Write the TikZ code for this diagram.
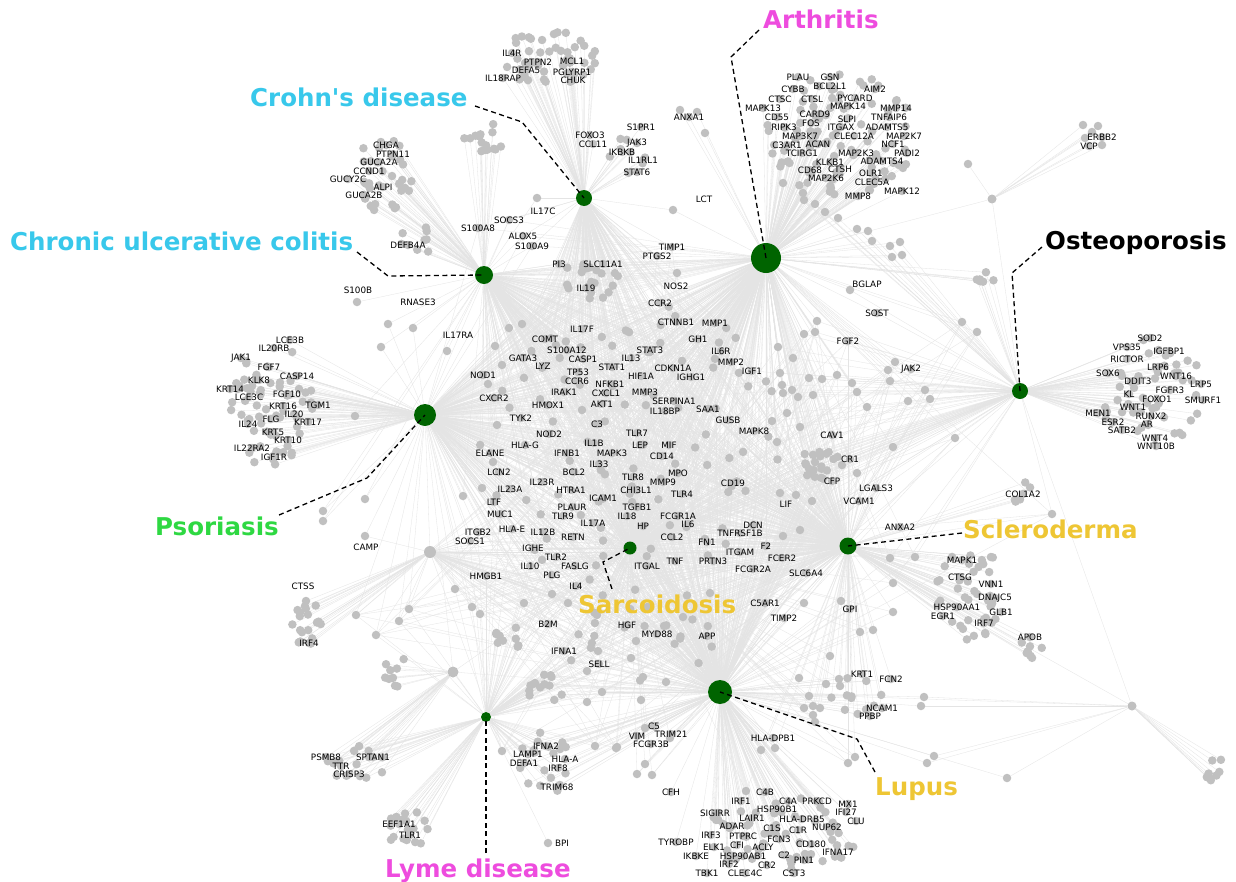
\documentclass[tikz,border=0pt]{standalone}
\usepackage{fontspec}
\setmainfont{DejaVu Sans}
\newfontfamily\diseasefont{DejaVu Sans}
\pgfdeclarelayer{background}
\pgfdeclarelayer{foreground}
\pgfsetlayers{background,main,foreground}

\definecolor{hubgreen}{RGB}{0,100,0}
\definecolor{dotgray}{RGB}{192,192,192}
\definecolor{edgegray}{RGB}{228,228,228}
\definecolor{ibdcyan}{RGB}{56,200,235}
\definecolor{lblmagenta}{RGB}{238,76,222}
\definecolor{lblgreen}{RGB}{46,216,66}
\definecolor{lblgold}{RGB}{238,198,52}

\tikzset{
  dot/.style={circle, fill=dotgray, inner sep=0pt, minimum size=8.5pt},
  minihub/.style={circle, fill=dotgray, inner sep=0pt},
  hub/.style={circle, fill=hubgreen, inner sep=0pt},
  edge/.style={draw=edgegray, line width=0.3pt},
  gene/.style={font=\fontsize{8.8}{9}\selectfont, inner sep=0pt, text=black},
  disease/.style={font=\diseasefont\fontsize{24.5}{28}\selectfont\bfseries, inner sep=0pt, anchor=base west},
  leader/.style={draw=black, line width=1.3pt, dash pattern=on 5pt off 3.5pt},
}

% hub groups that a node is linked to
\def\hbA{ART}
\def\hbC{CRO}
\def\hbU{COL}
\def\hbP{PSO}
\def\hbO{OST}
\def\hbS{SCL}
\def\hbL{LUP}
\def\hbY{LYM}
\def\hbCU{CRO,COL}
\def\hbCA{CRO,ART}
\def\hbAO{ART,OST}
\def\hbV{COL,CRO,PSO,ART}
\def\hbM{COL,CRO,ART,PSO,SAR,LUP}
\def\hbX{ART,PSO,SAR,LUP,SCL,COL,CRO}
\def\hbW{LUP,SAR,SCL,PSO,LYM,ART,g1}
\def\hbR{ART,SCL,LUP,OST,SAR}
\def\hbK{LUP,SCL}
\def\hbT{g2,LYM}
\def\hbLY{LYM,LUP}
\def\hbPU{PSO,COL}
\def\hbGa{g1}
\def\hbGb{g2}
\def\hbGc{g3}
\def\hbGd{g4}
\def\hbLS{LUP,SAR,SCL}
\def\hbLG{LUP,g4}
\def\hbSY{LYM,SAR}
\def\hbPG{g1,PSO}
\def\hbRO{ART,OST,SCL}

% unlabelled scattered clusters: \blobX{id}{cx}{cy}{rx}{ry}{count}{hubs}
\newcommand\bloblist{%
\blobX{bC1}{548}{58}{50}{27}{46}\hbC
\blobX{bC2}{628}{150}{22}{25}{8}\hbC
\blobX{bU1}{484}{139}{20}{18}{15}\hbU
\blobX{bU2}{385}{175}{32}{38}{34}\hbU
\blobX{bU3}{418}{240}{18}{14}{8}\hbU
\blobX{bV1}{590}{280}{30}{20}{20}\hbV
\blobX{bA1}{843}{135}{78}{62}{90}\hbA
\blobX{bO1}{1152}{393}{52}{58}{45}\hbO
\blobX{bO2}{985}{280}{12}{9}{6}\hbAO
\blobX{bP1}{273}{405}{42}{64}{60}\hbP
\blobX{bS1}{972}{595}{38}{45}{40}\hbS
\blobX{bS2}{1030}{648}{12}{11}{7}\hbS
\blobX{bS3}{1022}{492}{12}{12}{5}\hbS
\blobX{bR1}{822}{465}{22}{18}{22}\hbR
\blobX{bL1}{780}{835}{78}{40}{60}\hbL
\blobX{bL2}{858}{696}{30}{20}{12}\hbK
\blobX{bG1}{306}{622}{15}{25}{18}\hbGa
\blobX{bG2}{355}{765}{33}{20}{16}\hbT
\blobX{bG3}{396}{670}{12}{18}{9}\hbGb
\blobX{bG4}{1214}{768}{12}{16}{9}\hbGd
\blobX{bY1}{408}{830}{20}{22}{18}\hbY
\blobX{bY2}{510}{636}{15}{14}{9}\hbSY
\blobX{bY3}{545}{690}{18}{17}{13}\hbLY
\blobX{bY4}{540}{762}{32}{35}{18}\hbLY
\blobX{bX1}{630}{440}{150}{150}{90}\hbX
\blobX{bX2}{640}{640}{90}{55}{22}\hbW
}

% unlabelled single dots: \listX{id}{x/y,...}{hubs}
\newcommand\singlelist{%
\listX{sA1}{783/183,803/193,804/200,815/204,825/212,838/218,857/229,868/231,872/241,890/246,900/242,892/257,902/255}\hbAO
\listX{sA2}{680/110,697/112,705/133}\hbA
\listX{sE}{968/164,1083/125,1098/126,1092/132,1085/138,1102/145}\hbGc
\listX{sR}{817/321,804/334,815/332,778/347,793/358,780/373,782/385,792/390,798/397,783/393,809/378,822/379,837/375,852/383,857/392,867/407,813/395,787/413,800/427,772/421,777/442,893/447,857/473,796/495,812/501,800/530,783/536,890/558,915/557,893/583,888/370,895/362,890/381,908/401,962/322,977/332,925/390,930/399,955/438,1052/514}\hbR
\listX{sP}{388/324,381/347,355/416,365/499,323/511,323/521,463/496,482/488,493/462,497/425,488/384,495/346,502/365,509/328,522/324}\hbPU
\listX{sW}{455/589,472/607,480/614,409/609,399/621,356/615,376/635,524/603,552/594,568/603,597/615,598/651,587/671,602/692,587/702,502/751,595/746,616/748}\hbW
\listX{sL}{804/603,841/601,893/612,860/632,873/630,830/656,799/678,826/684,839/679,809/696,804/708,813/706,820/708,813/715,815/722,855/757,848/763,761/750,775/748,643/677,666/682,641/700,631/658,636/641,664/626,683/617,710/593,617/747,645/764,637/774,652/775,645/728,670/738,746/791}\hbLS
\listX{sG}{924/697,921/706,934/756,927/763,1007/778}\hbLG
}

% labelled genes: \genA{x}{y}{name}{hubs}, \genB{lx}{ly}{dx}{dy}{name}{hubs}
\newcommand\genelist{%
\genA{512}{53}{IL4R}\hbC
\genA{538}{62}{PTPN2}\hbC
\genA{572}{61}{MCL1}\hbC
\genA{526}{70}{DEFA5}\hbC
\genA{572}{72}{PGLYRP1}\hbC
\genA{503}{78}{IL18RAP}\hbC
\genA{573}{80}{CHUK}\hbC
\genA{590}{135}{FOXO3}\hbC
\genA{593}{144}{CCL11}\hbC
\genA{641}{127}{S1PR1}\hbC
\genA{637}{143}{JAK3}\hbC
\genA{622}{152}{IKBKB}\hbC
\genA{643}{160}{IL1RL1}\hbC
\genA{637}{172}{STAT6}\hbC
\genB{543}{211}{537}{198}{IL17C}\hbCU
\genA{386}{145}{CHGA}\hbU
\genA{393}{154}{PTPN11}\hbU
\genA{379}{162}{GUCA2A}\hbU
\genA{369}{171}{CCND1}\hbU
\genA{348}{179}{GUCY2C}\hbU
\genA{383}{187}{ALPI}\hbU
\genA{364}{195}{GUCA2B}\hbU
\genA{408}{245}{DEFB4A}\hbU
\genB{358}{290}{357}{302}{S100B}\hbU
\genB{418}{302}{413}{328}{RNASE3}\hbPU
\genB{458}{335}{447}{351}{IL17RA}\hbPU
\genA{509}{220}{SOCS3}\hbV
\genA{478}{228}{S100A8}\hbV
\genA{523}{236}{ALOX5}\hbV
\genA{532}{246}{S100A9}\hbV
\genA{559}{264}{PI3}\hbV
\genA{603}{264}{SLC11A1}\hbV
\genA{586}{288}{IL19}\hbV
\genA{689}{117}{ANXA1}\hbA
\genB{704}{199}{673}{210}{LCT}\hbCA
\genA{672}{247}{TIMP1}\hbM
\genA{657}{256}{PTGS2}\hbM
\genB{676}{286}{677}{273}{NOS2}\hbM
\genA{798}{77}{PLAU}\hbA
\genA{830}{77}{GSN}\hbA
\genA{793}{89}{CYBB}\hbA
\genA{830}{86}{BCL2L1}\hbA
\genA{875}{89}{AIM2}\hbA
\genA{780}{99}{CTSC}\hbA
\genA{812}{99}{CTSL}\hbA
\genA{855}{98}{PYCARD}\hbA
\genA{763}{108}{MAPK13}\hbA
\genA{848}{106}{MAPK14}\hbA
\genA{896}{108}{MMP14}\hbA
\genA{777}{117}{CD55}\hbA
\genA{815}{114}{CARD9}\hbA
\genA{847}{119}{SLPI}\hbA
\genA{889}{117}{TNFAIP6}\hbA
\genA{811}{123}{FOS}\hbA
\genA{784}{127}{RIPK3}\hbA
\genA{841}{127}{ITGAX}\hbA
\genA{887}{127}{ADAMTS5}\hbA
\genA{800}{136}{MAP3K7}\hbA
\genA{854}{136}{CLEC12A}\hbA
\genA{904}{136}{MAP2K7}\hbA
\genA{787}{145}{C3AR1}\hbA
\genA{818}{144}{ACAN}\hbA
\genA{893}{144}{NCF1}\hbA
\genA{802}{153}{TCIRG1}\hbA
\genA{856}{153}{MAP2K3}\hbA
\genA{907}{153}{PADI2}\hbA
\genA{830}{162}{KLKB1}\hbA
\genA{882}{161}{ADAMTS4}\hbA
\genA{810}{170}{CD68}\hbA
\genA{840}{169}{CTSH}\hbA
\genA{871}{173}{OLR1}\hbA
\genA{826}{178}{MAP2K6}\hbA
\genA{872}{182}{CLEC5A}\hbA
\genA{902}{191}{MAPK12}\hbA
\genA{858}{196}{MMP8}\hbA
\genB{867}{284}{850}{290}{BGLAP}\hbAO
\genA{877}{313}{SOST}\hbAO
\genA{848}{341}{FGF2}\hbR
\genA{911}{369}{JAK2}\hbRO
\genA{1102}{137}{ERBB2}\hbGc
\genA{1089}{146}{VCP}\hbGc
\genA{1150}{338}{SOD2}\hbO
\genA{1127}{347}{VPS35}\hbO
\genA{1169}{351}{IGFBP1}\hbO
\genA{1127}{359}{RICTOR}\hbO
\genA{1158}{367}{LRP6}\hbO
\genA{1108}{373}{SOX6}\hbO
\genA{1176}{376}{WNT16}\hbO
\genA{1201}{384}{LRP5}\hbO
\genA{1138}{381}{DDIT3}\hbO
\genA{1170}{390}{FGFR3}\hbO
\genA{1129}{394}{KL}\hbO
\genA{1157}{399}{FOXO1}\hbO
\genA{1203}{400}{SMURF1}\hbO
\genA{1133}{407}{WNT1}\hbO
\genA{1098}{413}{MEN1}\hbO
\genA{1151}{416}{RUNX2}\hbO
\genA{1113}{422}{ESR2}\hbO
\genA{1147}{424}{AR}\hbO
\genA{1122}{430}{SATB2}\hbO
\genA{1155}{438}{WNT4}\hbO
\genA{1156}{446}{WNT10B}\hbO
\genA{290}{340}{LCE3B}\hbP
\genA{274}{348}{IL20RB}\hbP
\genA{241}{358}{JAK1}\hbP
\genA{269}{367}{FGF7}\hbP
\genA{297}{376}{CASP14}\hbP
\genA{259}{380}{KLK8}\hbP
\genA{230}{389}{KRT14}\hbP
\genA{287}{394}{FGF10}\hbP
\genA{249}{397}{LCE3C}\hbP
\genA{283}{406}{KRT16}\hbP
\genA{318}{405}{TGM1}\hbP
\genA{294}{414}{IL20}\hbP
\genA{271}{419}{FLG}\hbP
\genA{308}{422}{KRT17}\hbP
\genA{248}{424}{IL24}\hbP
\genA{273}{432}{KRT5}\hbP
\genA{288}{440}{KRT10}\hbP
\genA{252}{448}{IL22RA2}\hbP
\genA{274}{457}{IGF1R}\hbP
\genB{303}{586}{306}{601}{CTSS}\hbGa
\genA{309}{643}{IRF4}\hbGa
\genB{366}{547}{365}{536}{CAMP}\hbPG
\genA{582}{329}{IL17F}\hbM
\genA{545}{339}{COMT}\hbM
\genA{567}{350}{S100A12}\hbM
\genA{523}{358}{GATA3}\hbM
\genA{583}{359}{CASP1}\hbX
\genA{543}{366}{LYZ}\hbX
\genA{650}{350}{STAT3}\hbX
\genA{483}{375}{NOD1}\hbPU
\genA{578}{372}{TP53}\hbX
\genA{577}{381}{CCR6}\hbX
\genA{612}{367}{STAT1}\hbX
\genA{610}{384}{NFKB1}\hbX
\genA{564}{392}{IRAK1}\hbX
\genA{606}{393}{CXCL1}\hbX
\genA{494}{398}{CXCR2}\hbX
\genA{548}{405}{HMOX1}\hbX
\genA{602}{404}{AKT1}\hbX
\genA{521}{418}{TYK2}\hbX
\genA{597}{424}{C3}\hbX
\genA{549}{434}{NOD2}\hbX
\genA{525}{445}{HLA-G}\hbX
\genA{594}{443}{IL1B}\hbX
\genA{490}{453}{ELANE}\hbX
\genA{567}{453}{IFNB1}\hbX
\genA{612}{453}{MAPK3}\hbX
\genA{599}{464}{IL33}\hbX
\genA{499}{472}{LCN2}\hbX
\genA{574}{472}{BCL2}\hbX
\genA{542}{482}{IL23R}\hbX
\genA{510}{489}{IL23A}\hbX
\genA{571}{490}{HTRA1}\hbX
\genA{603}{498}{ICAM1}\hbX
\genA{494}{502}{LTF}\hbW
\genA{572}{507}{PLAUR}\hbX
\genA{500}{514}{MUC1}\hbW
\genA{563}{516}{TLR9}\hbW
\genA{593}{523}{IL17A}\hbX
\genA{478}{532}{ITGB2}\hbW
\genA{512}{529}{HLA-E}\hbW
\genA{543}{532}{IL12B}\hbW
\genA{573}{537}{RETN}\hbW
\genA{470}{541}{SOCS1}\hbW
\genA{533}{548}{IGHE}\hbW
\genA{556}{557}{TLR2}\hbW
\genA{530}{566}{IL10}\hbW
\genA{575}{566}{FASLG}\hbW
\genA{486}{576}{HMGB1}\hbW
\genA{552}{575}{PLG}\hbW
\genA{576}{586}{IL4}\hbW
\genA{660}{303}{CCR2}\hbM
\genA{676}{322}{CTNNB1}\hbX
\genA{715}{323}{MMP1}\hbX
\genA{698}{339}{GH1}\hbX
\genA{721}{351}{IL6R}\hbX
\genA{631}{358}{IL13}\hbX
\genA{731}{362}{MMP2}\hbX
\genA{673}{368}{CDKN1A}\hbX
\genA{752}{371}{IGF1}\hbR
\genA{641}{376}{HIF1A}\hbX
\genA{691}{377}{IGHG1}\hbX
\genA{645}{392}{MMP3}\hbX
\genA{674}{401}{SERPINA1}\hbX
\genA{665}{411}{IL18BP}\hbX
\genA{708}{409}{SAA1}\hbX
\genA{728}{420}{GUSB}\hbX
\genA{637}{433}{TLR7}\hbX
\genA{754}{431}{MAPK8}\hbR
\genA{832}{435}{CAV1}\hbR
\genA{640}{445}{LEP}\hbX
\genA{669}{445}{MIF}\hbX
\genA{662}{456}{CD14}\hbX
\genA{850}{459}{CR1}\hbR
\genA{678}{473}{MPO}\hbX
\genA{633}{477}{TLR8}\hbX
\genA{832}{481}{CFP}\hbR
\genA{663}{482}{MMP9}\hbX
\genA{733}{483}{CD19}\hbX
\genA{636}{490}{CHI3L1}\hbX
\genA{876}{488}{LGALS3}\hbS
\genA{682}{494}{TLR4}\hbX
\genA{859}{501}{VCAM1}\hbS
\genB{786}{504}{780}{493}{LIF}\hbR
\genA{637}{507}{TGFB1}\hbX
\genA{678}{516}{FCGR1A}\hbX
\genA{627}{516}{IL18}\hbX
\genA{643}{526}{HP}\hbX
\genA{688}{524}{IL6}\hbX
\genA{753}{525}{DCN}\hbR
\genA{900}{527}{ANXA2}\hbS
\genA{740}{533}{TNFRSF1B}\hbX
\genA{672}{537}{CCL2}\hbX
\genA{707}{542}{FN1}\hbX
\genA{766}{546}{F2}\hbR
\genA{740}{552}{ITGAM}\hbW
\genA{782}{558}{FCER2}\hbR
\genA{647}{566}{ITGAL}\hbW
\genA{675}{561}{TNF}\hbW
\genA{713}{561}{PRTN3}\hbW
\genA{753}{569}{FCGR2A}\hbW
\genA{806}{573}{SLC6A4}\hbR
\genA{1023}{494}{COL1A2}\hbS
\genA{962}{560}{MAPK1}\hbS
\genA{960}{577}{CTSG}\hbS
\genA{991}{584}{VNN1}\hbS
\genA{995}{598}{DNAJC5}\hbS
\genA{957}{607}{HSP90AA1}\hbS
\genA{1001}{612}{GLB1}\hbS
\genA{943}{616}{EGR1}\hbS
\genA{984}{623}{IRF7}\hbS
\genA{1030}{637}{APOB}\hbS
\genA{548}{624}{B2M}\hbW
\genA{627}{625}{HGF}\hbW
\genA{564}{651}{IFNA1}\hbW
\genA{599}{664}{SELL}\hbW
\genA{765}{603}{C5AR1}\hbL
\genA{850}{609}{GPI}\hbK
\genA{784}{618}{TIMP2}\hbL
\genA{657}{634}{MYD88}\hbW
\genA{707}{636}{APP}\hbL
\genA{862}{674}{KRT1}\hbK
\genA{891}{679}{FCN2}\hbK
\genA{882}{708}{NCAM1}\hbK
\genA{870}{716}{PPBP}\hbK
\genA{654}{726}{C5}\hbL
\genA{671}{734}{TRIM21}\hbL
\genA{637}{736}{VIM}\hbL
\genA{651}{744}{FCGR3B}\hbL
\genA{773}{738}{HLA-DPB1}\hbL
\genA{671}{792}{CFH}\hbL
\genA{765}{792}{C4B}\hbL
\genA{741}{801}{IRF1}\hbL
\genA{788}{801}{C4A}\hbL
\genA{817}{801}{PRKCD}\hbL
\genA{848}{804}{MX1}\hbL
\genA{777}{809}{HSP90B1}\hbL
\genA{715}{813}{SIGIRR}\hbL
\genA{846}{812}{IFI27}\hbL
\genA{752}{818}{LAIR1}\hbL
\genA{802}{819}{HLA-DRB5}\hbL
\genA{856}{821}{CLU}\hbL
\genA{732}{826}{ADAR}\hbL
\genA{772}{828}{C1S}\hbL
\genA{798}{830}{C1R}\hbL
\genA{827}{827}{NUP62}\hbL
\genA{711}{835}{IRF3}\hbL
\genA{743}{836}{PTPRC}\hbL
\genA{779}{839}{FCN3}\hbL
\genA{676}{842}{TYROBP}\hbL
\genA{811}{844}{CD180}\hbL
\genA{714}{847}{ELK1}\hbL
\genA{737}{845}{CFI}\hbL
\genA{763}{847}{ACLY}\hbL
\genA{838}{852}{IFNA17}\hbL
\genA{696}{856}{IKBKE}\hbL
\genA{743}{856}{HSP90AB1}\hbL
\genA{784}{855}{C2}\hbL
\genA{804}{860}{PIN1}\hbL
\genA{729}{864}{IRF2}\hbL
\genA{767}{865}{CR2}\hbL
\genA{707}{873}{TBK1}\hbL
\genA{745}{873}{CLEC4C}\hbL
\genA{794}{873}{CST3}\hbL
\genA{326}{757}{PSMB8}\hbT
\genA{373}{757}{SPTAN1}\hbT
\genA{341}{766}{TTR}\hbT
\genA{349}{774}{CRISP3}\hbT
\genA{546}{746}{IFNA2}\hbLY
\genA{528}{754}{LAMP1}\hbLY
\genA{565}{759}{HLA-A}\hbLY
\genA{524}{763}{DEFA1}\hbLY
\genA{558}{768}{IRF8}\hbLY
\genA{557}{787}{TRIM68}\hbLY
\genA{399}{824}{EEF1A1}\hbY
\genA{410}{835}{TLR1}\hbY
\genB{562}{843}{548}{843}{BPI}\hbY
}

\begin{document}
\begin{tikzpicture}[x=1pt,y=-1pt]
\pgfmathsetseed{7}
\useasboundingbox (0,0) rectangle (1236,881);

% disease hubs
\begin{pgfonlayer}{foreground}
  \node[hub, minimum size=30pt] (ART) at (766,258) {};
  \node[hub, minimum size=16pt] (CRO) at (584,198) {};
  \node[hub, minimum size=18pt] (COL) at (484,275) {};
  \node[hub, minimum size=22pt] (PSO) at (425,415) {};
  \node[hub, minimum size=16pt] (OST) at (1020,391) {};
  \node[hub, minimum size=17pt] (SCL) at (848,546) {};
  \node[hub, minimum size=13pt] (SAR) at (630,548) {};
  \node[hub, minimum size=24pt] (LUP) at (720,692) {};
  \node[hub, minimum size=10pt] (LYM) at (486,717) {};
\end{pgfonlayer}

% secondary grey hubs
\node[minihub, minimum size=12pt] (g1) at (430,552) {};
\node[minihub, minimum size=11pt] (g2) at (453,672) {};
\node[minihub, minimum size=9pt] (g3) at (992,199) {};
\node[minihub, minimum size=9pt] (g4) at (1132,706) {};

% all dots
\begingroup
  \def\blobX#1#2#3#4#5#6#7{%
    \foreach \i in {1,...,#6}{%
      \pgfmathsetmacro\ba{360*rnd}%
      \pgfmathsetmacro\br{sqrt(rnd)}%
      \node[dot] (#1-\i) at ({#2+#4*\br*cos(\ba)},{#3+#5*\br*sin(\ba)}) {};%
    }}
  \def\listX#1#2#3{\foreach \x/\y [count=\k] in {#2}{\node[dot] (#1-\k) at (\x,\y) {};}}
  \def\genA#1#2#3#4{\node[dot] (d-#3) at (#1,#2) {};}
  \def\genB#1#2#3#4#5#6{\node[dot] (d-#5) at (#3,#4) {};}
  \bloblist
  \singlelist
  \genelist
\endgroup

% all links, beneath everything
\begin{pgfonlayer}{background}
  \fill[white] (0,0) rectangle (1236,881);
  \foreach \h in {PSO,SAR,LUP,ART} {\draw[edge] (g1) -- (\h);}
  \foreach \h in {LYM,LUP,SAR,PSO} {\draw[edge] (g2) -- (\h);}
  \foreach \h in {ART,OST} {\draw[edge] (g3) -- (\h);}
  \foreach \h in {SCL,LUP,OST} {\draw[edge] (g4) -- (\h);}
  \def\blobX#1#2#3#4#5#6#7{\foreach \i in {1,...,#6}{\foreach \h in #7 {\draw[edge] (\h) -- (#1-\i);}}}
  \def\listX#1#2#3{\foreach \x/\y [count=\k] in {#2}{\foreach \h in #3 {\draw[edge] (\h) -- (#1-\k);}}}
  \def\genA#1#2#3#4{\foreach \h in #4 {\draw[edge] (\h) -- (d-#3);}}
  \def\genB#1#2#3#4#5#6{\foreach \h in #6 {\draw[edge] (\h) -- (d-#5);}}
  \bloblist
  \singlelist
  \genelist
\end{pgfonlayer}

% gene names
\begingroup
  \def\genA#1#2#3#4{\node[gene] (t-#3) at (#1,#2) {#3};}
  \def\genB#1#2#3#4#5#6{\node[gene] (t-#5) at (#1,#2) {#5};}
  \genelist
\endgroup

% disease names with dashed leaders
\begin{pgfonlayer}{foreground}
  \node[disease, text=ibdcyan] (lCRO) at (250,106) {Crohn's disease};
  \node[disease, text=ibdcyan] (lCOL) at (10,250) {Chronic ulcerative colitis};
  \node[disease, text=lblmagenta] (lART) at (763,28) {Arthritis};
  \node[disease, text=black] (lOST) at (1045,249) {Osteoporosis};
  \node[disease, text=lblgreen] (lPSO) at (155,535) {Psoriasis};
  \node[disease, text=lblgold] (lSCL) at (963,538) {Scleroderma};
  \node[disease, text=lblgold] (lSAR) at (578,613) {Sarcoidosis};
  \node[disease, text=lblgold] (lLUP) at (875,795) {Lupus};
  \node[disease, text=lblmagenta] (lLYM) at (385,877) {Lyme disease};

  \coordinate (kCRO1) at (475,106);  \coordinate (kCRO2) at (522,122);
  \coordinate (kCOL1) at (357,252);  \coordinate (kCOL2) at (388,276);
  \coordinate (kART1) at (759,30);   \coordinate (kART2) at (731,57);
  \coordinate (kOST1) at (1042,247); \coordinate (kOST2) at (1012,273);
  \coordinate (kPSO1) at (279,515);  \coordinate (kPSO2) at (367,478);
  \coordinate (kSCL1) at (962,533);
  \coordinate (kSAR1) at (612,589);  \coordinate (kSAR2) at (603,562);
  \coordinate (kLUP1) at (875,772);  \coordinate (kLUP2) at (857,739);
  \coordinate (kLYM1) at (486,853);

  \draw[leader] (kCRO1) -- (kCRO2) -- (CRO.center);
  \draw[leader] (kCOL1) -- (kCOL2) -- (COL.center);
  \draw[leader] (kART1) -- (kART2) -- (ART.center);
  \draw[leader] (kOST1) -- (kOST2) -- (OST.center);
  \draw[leader] (kPSO1) -- (kPSO2) -- (PSO.center);
  \draw[leader] (kSCL1) -- (SCL.center);
  \draw[leader] (kSAR1) -- (kSAR2) -- (SAR.center);
  \draw[leader] (kLUP1) -- (kLUP2) -- (LUP.center);
  \draw[leader] (kLYM1) -- (LYM.center);
\end{pgfonlayer}
\end{tikzpicture}
\end{document}
